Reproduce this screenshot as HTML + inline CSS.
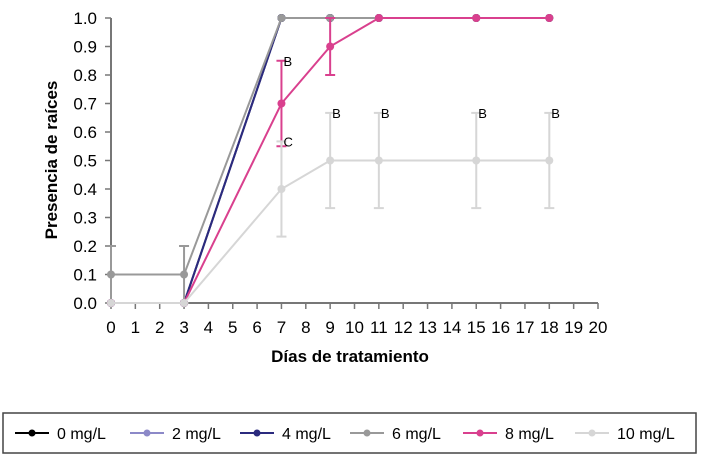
<!DOCTYPE html>
<html><head><meta charset="utf-8"><style>
body{margin:0;background:#fff;font-family:"Liberation Sans",Arial,sans-serif}
svg text{font-family:"Liberation Sans",Arial,sans-serif}
</style></head><body>
<svg id="c" width="707" height="457" xmlns="http://www.w3.org/2000/svg"></svg>
<script>
const days=[0,3,7,9,11,15,18];
const seriesNames=["0 mg/L","2 mg/L","4 mg/L","6 mg/L","8 mg/L","10 mg/L"];
const colors=["#000000","#8c89c8","#2b2a7e","#999999","#d9408e","#d6d6d6"];
const s0=[0,0,1,1,1,1,1];
const s2=[0,0,1,1,1,1,1];
const s4=[0,0,1,1,1,1,1];
const s6=[0.1,0.1,1,1,1,1,1];
const s8=[0,0,0.7,0.9,1,1,1];
const s10=[0,0,0.4,0.5,0.5,0.5,0.5];
const e6=[0.1,0.1,0,0,0,0,0];
const e8=[0,0,0.15,0.1,0,0,0];
const e10=[0,0,0.167,0.167,0.167,0.167,0.167];
const letters8=["","","B","","","",""];
const letters10=["","","C","B","B","B","B"];
const xTicks=[0,1,2,3,4,5,6,7,8,9,10,11,12,13,14,15,16,17,18,19,20];
const yTicks=[0,0.1,0.2,0.3,0.4,0.5,0.6,0.7,0.8,0.9,1.0];

const NS="http://www.w3.org/2000/svg",svg=document.getElementById('c');
const X=v=>111+v*24.35, Y=v=>303-v*285;
function el(t,a,p){const e=document.createElementNS(NS,t);for(const k in a)e.setAttribute(k,a[k]);(p||svg).appendChild(e);return e;}
let ax=el('line',{x1:111,y1:18,x2:111,y2:303,stroke:'#777','stroke-width':2});


ax=el('line',{x1:111,y1:303,x2:X(20),y2:303,stroke:'#777','stroke-width':2});


yTicks.forEach(v=>{
 el('line',{x1:105,y1:Y(v),x2:111,y2:Y(v),stroke:'#777','stroke-width':1.5});
 const t=el('text',{x:97,y:Y(v)+6,'text-anchor':'end','font-size':17});t.textContent=v.toFixed(1);
 
 
});
xTicks.forEach(v=>{
 el('line',{x1:X(v),y1:303,x2:X(v),y2:309,stroke:'#777','stroke-width':1.5});
 const t=el('text',{x:X(v),y:333,'text-anchor':'middle','font-size':17});t.textContent=v;
 
 
});
let t=el('text',{x:350,y:362,'text-anchor':'middle','font-size':17,'font-weight':'bold'});t.textContent='Días de tratamiento';


t=el('text',{x:0,y:0,'text-anchor':'middle','font-size':17,'font-weight':'bold',transform:'translate(57,160) rotate(-90)'});t.textContent='Presencia de raíces';



const all=[s0,s2,s4,s6,s8,s10], errs=[null,null,null,e6,e8,e10];
all.forEach((s,i)=>{
 const g=el('g',{});
 
 
 const e=errs[i];
 if(e) days.forEach((d,j)=>{ if(e[j]>0){
   const x=X(d),y1=Y(Math.max(0,s[j]-e[j])),y2=Y(s[j]+e[j]);
   el('line',{x1:x,y1:y1,x2:x,y2:y2,stroke:colors[i],'stroke-width':2},g);
   el('line',{x1:x-5,y1:y1,x2:x+5,y2:y1,stroke:colors[i],'stroke-width':2},g);
   el('line',{x1:x-5,y1:y2,x2:x+5,y2:y2,stroke:colors[i],'stroke-width':2},g);
 }});
 el('polyline',{points:days.map((d,j)=>X(d)+','+Y(s[j])).join(' '),fill:'none',stroke:colors[i],'stroke-width':2},g);
 days.forEach((d,j)=>{const c=el('circle',{cx:X(d),cy:Y(s[j]),r:4,fill:colors[i]},g);
  
  });
});
function letters(arr,s,e){days.forEach((d,j)=>{if(arr[j]){const t=el('text',{x:X(d)+2,y:Y(s[j]+e[j])+5,'font-size':13});t.textContent=arr[j];
 
 }});}
letters(letters8,s8,e8);
letters(letters10,s10,e10);

const lg=el('g',{});


el('rect',{x:3,y:413,width:693,height:40,fill:'#fff',stroke:'#444','stroke-width':1.5},lg);
const lx=[15,130,240,350,463,575];
seriesNames.forEach((n,i)=>{
 const g=el('g',{},lg);
 
 
 el('line',{x1:lx[i],y1:433,x2:lx[i]+34,y2:433,stroke:colors[i],'stroke-width':2},g);
 el('circle',{cx:lx[i]+17,cy:433,r:3.5,fill:colors[i]},g);
 const t=el('text',{x:lx[i]+42,y:439,'font-size':16},g);t.textContent=n;
});
</script>
</body></html>
